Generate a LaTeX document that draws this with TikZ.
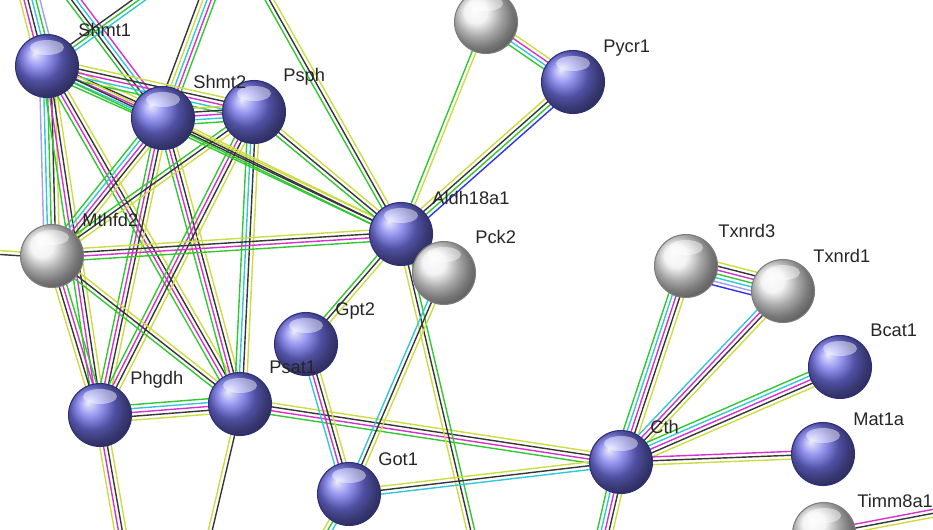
\documentclass[tikz,border=0pt]{standalone}
\usepackage{fontspec}
\setmainfont{Liberation Sans}
\usetikzlibrary{calc}
\pgfdeclarelayer{edges}
\pgfsetlayers{edges,main}
\definecolor{cG}{RGB}{50,200,50}
\definecolor{cY}{RGB}{205,220,65}
\definecolor{cK}{RGB}{55,55,55}
\definecolor{cM}{RGB}{215,50,205}
\definecolor{cC}{RGB}{50,200,220}
\definecolor{cB}{RGB}{50,50,230}
\definecolor{cL}{RGB}{160,160,240}
\definecolor{bblue}{RGB}{115,115,235}
\definecolor{bwhite}{RGB}{240,240,240}
\definecolor{rimblue}{RGB}{45,45,125}
\definecolor{rimgray}{RGB}{125,125,125}
\tikzset{
  edgeline/.style={line width=0.8pt},
  ballbase/.style={circle, minimum size=1.26cm, inner sep=0pt, shading=ball, line width=0.6pt,
    path picture={\fill[white,opacity=0.45] ($(path picture bounding box.center)+(0,0.37cm)$) ellipse (0.34cm and 0.15cm);}},
  ballB/.style={ballbase, ball color=bblue, draw=rimblue},
  ballW/.style={ballbase, ball color=bwhite, draw=rimgray},
  lbl/.style={anchor=base west, inner sep=0pt, text=black!85, font=\fontsize{10.4}{12}\selectfont}
}
\newcommand\bund[3]{%
  \foreach \cc [count=\k] in {#3} {\xdef\bundn{\k}}%
  \foreach \cc [count=\k] in {#3} {%
    \pgfmathsetmacro\bo{(\k-(\bundn+1)/2)*2.2}%
    \draw[edgeline,\cc] ($(#1)!\bo pt!90:(#2)$) -- ($(#2)!\bo pt!-90:(#1)$);%
  }%
}
\begin{document}
\begin{tikzpicture}[x=0.02cm,y=-0.02cm]
\useasboundingbox (0,0) rectangle (933,530);
\begin{scope}
\clip (0,0) rectangle (933,530);
% balls
\node[ballB] (Shmt1) at (47,66) {};
\node[ballB] (Shmt2) at (163,118) {};
\node[ballB] (Psph) at (254,112) {};
\node[ballW] (Wtop) at (486,22) {};
\node[ballB] (Pycr1) at (573,82) {};
\node[ballW] (Mthfd2) at (52,256) {};
\node[ballB] (Aldh) at (401,234) {};
\node[ballW] (Pck2) at (444,273) {};
\node[ballW] (Txnrd3) at (686,266) {};
\node[ballW] (Txnrd1) at (783,291) {};
\node[ballB] (Bcat1) at (840,367) {};
\node[ballB] (Gpt2) at (306,344) {};
\node[ballB] (Phgdh) at (100,415) {};
\node[ballB] (Psat1) at (240,404) {};
\node[ballB] (Got1) at (349,494) {};
\node[ballB] (Cth) at (621,462) {};
\node[ballB] (Mat1a) at (823,454) {};
\node[ballW] (Timm) at (824,534) {};
\end{scope}
% labels
\node[lbl] (lShmt1) at (78,37) {Shmt1};
\node[lbl] (lShmt2) at (193,89) {Shmt2};
\node[lbl] (lPsph) at (283,82) {Psph};
\node[lbl] (lPycr1) at (603,53) {Pycr1};
\node[lbl] (lMthfd2) at (82,227) {Mthfd2};
\node[lbl] (lAldh) at (432,205) {Aldh18a1};
\node[lbl] (lPck2) at (475,244) {Pck2};
\node[lbl] (lGpt2) at (335,316) {Gpt2};
\node[lbl] (lTxnrd3) at (718,237) {Txnrd3};
\node[lbl] (lTxnrd1) at (813,262) {Txnrd1};
\node[lbl] (lBcat1) at (870,337) {Bcat1};
\node[lbl] (lPhgdh) at (130,384) {Phgdh};
\node[lbl] (lPsat1) at (269,373) {Psat1};
\node[lbl] (lGot1) at (378,465) {Got1};
\node[lbl] (lCth) at (650,433) {Cth};
\node[lbl] (lMat1a) at (853,425) {Mat1a};
\node[lbl] (lTimm) at (857,507) {Timm8a1};
% off-picture ends
\coordinate (tA) at (28,-8);
\coordinate (tB) at (68,-8);
\coordinate (tC) at (150,-8);
\coordinate (tD) at (210,-8);
\coordinate (tE) at (265,-8);
\coordinate (lM) at (-8,252);
\coordinate (bPh) at (122,540);
\coordinate (bPs) at (208,540);
\coordinate (bGo) at (322,540);
\coordinate (bAl) at (473,540);
\coordinate (bCt) at (603,540);
\coordinate (rTi) at (940,512);
\begin{pgfonlayer}{edges}
\begin{scope}
\clip (0,0) rectangle (933,530);
\bund{Shmt1}{tA}{cL,cG,cC,cK,cM,cY}
\bund{Shmt2}{tB}{cM,cC,cK,cG}
\bund{Shmt1}{tC}{cC,cG,cK}
\bund{Shmt2}{tD}{cG,cM,cC,cY,cK}
\bund{Aldh}{tE}{cY,cK,cG}
\bund{Shmt1}{Shmt2}{cG,cC,cM,cK,cY}
\bund{Shmt1}{Psph}{cG,cC,cM,cK,cY}
\bund{Shmt2}{Psph}{cG,cC,cM,cK,cY}
\bund{Shmt1}{Mthfd2}{cL,cC,cG,cK,cY}
\bund{Shmt1}{Phgdh}{cG,cM,cK,cY}
\bund{Shmt1}{Psat1}{cG,cM,cK,cY}
\bund{Shmt2}{Mthfd2}{cG,cC,cM,cK,cY}
\bund{Shmt2}{Phgdh}{cG,cM,cK,cY}
\bund{Shmt2}{Psat1}{cG,cM,cK,cY}
\bund{Psph}{Phgdh}{cG,cM,cK,cY}
\bund{Psph}{Psat1}{cG,cC,cK,cY}
\bund{Psph}{Mthfd2}{cG,cK,cY}
\bund{Mthfd2}{Phgdh}{cY,cK,cM,cG}
\bund{Mthfd2}{Psat1}{cG,cK,cY}
\bund{Mthfd2}{Aldh}{cG,cM,cK,cY}
\bund{Mthfd2}{lM}{cY,cK}
\bund{Shmt1}{Aldh}{cG,cK,cY}
\bund{Shmt2}{Aldh}{cG,cK,cY}
\bund{Psph}{Aldh}{cG,cK,cY}
\bund{Phgdh}{Psat1}{cY,cK,cM,cC,cG}
\bund{Psat1}{Cth}{cG,cM,cK,cY}
\bund{Phgdh}{bPh}{cY,cM,cK,cY}
\bund{Psat1}{bPs}{cY,cK}
\bund{Aldh}{Gpt2}{cG,cK,cY}
\bund{Aldh}{Pycr1}{cB,cG,cK,cY}
\bund{Aldh}{Wtop}{cY,cG}
\bund{Wtop}{Pycr1}{cG,cC,cM,cY}
\bund{Aldh}{bAl}{cY,cK,cG}
\bund{Pck2}{Got1}{cC,cK,cY}
\bund{Gpt2}{Got1}{cC,cM,cK,cY}
\bund{Got1}{Cth}{cC,cK,cY}
\bund{Got1}{bGo}{cY,cG,cC}
\bund{Cth}{Txnrd3}{cY,cK,cM,cC,cG}
\bund{Cth}{Txnrd1}{cY,cK,cM,cC}
\bund{Txnrd3}{Txnrd1}{cB,cL,cC,cG,cM,cK,cY}
\bund{Cth}{Bcat1}{cY,cK,cM,cC,cG}
\bund{Cth}{Mat1a}{cY,cK,cM}
\bund{Cth}{bCt}{cG,cC,cM,cK,cY}
\bund{Timm}{rTi}{cY,cK,cM}
\end{scope}
\end{pgfonlayer}
\end{tikzpicture}
\end{document}
